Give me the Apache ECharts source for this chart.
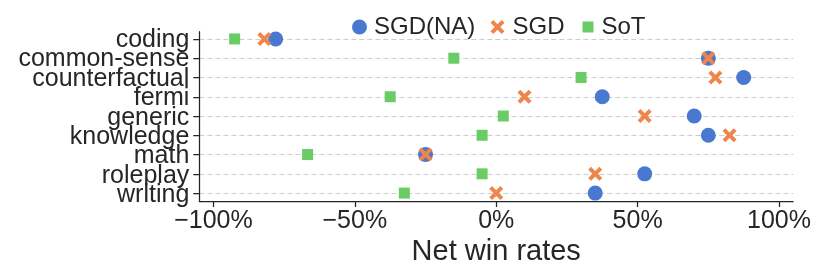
<!DOCTYPE html>
<html>
<head>
<meta charset="utf-8">
<script src="https://cdn.jsdelivr.net/npm/echarts@6/dist/echarts.min.js"></script>
<style>
html,body{margin:0;padding:0;background:#fff;}
#chart{width:814px;height:271px;}
</style>
</head>
<body>
<div id="chart"></div>
<script>
const categories = ['coding','common-sense','counterfactual','fermi','generic','knowledge','math','roleplay','writing'];
const sgdNA = [-78, 75, 87.5, 37.5, 70, 75, -25, 52.5, 35];
const sgd = [-82, 75, 77.5, 10, 52.5, 82.5, -25, 35, 0];
const sot = [-92.5, -15, 30, -37.5, 2.5, -5, -66.7, -5, -32.5];
const xTicks = [-100, -50, 0, 50, 100];
const seriesNames = ['SGD(NA)', 'SGD', 'SoT'];

const FONT = '"Liberation Sans", Arial, Helvetica, sans-serif';
const TXT = '#262626';
const xPath = 'path://M0,2 L2,0 L5,3 L8,0 L10,2 L7,5 L10,8 L8,10 L5,7 L2,10 L0,8 L3,5 Z';
const catIdx = categories.map((c, i) => i);
const toPts = arr => arr.map((v, i) => [v, i]);

const chart = echarts.init(document.getElementById('chart'), null, {renderer: 'canvas'});
chart.setOption({
  animation: false,
  backgroundColor: '#ffffff',
  textStyle: {fontFamily: FONT, color: TXT},
  grid: [
    {left: 199.3, right: 20.7, top: 31.7, bottom: 68.7, containLabel: false},
    {left: 199.3, right: 20.7, top: 30.3, bottom: 66.0, containLabel: false}
  ],
  legend: [
    {data: [seriesNames[0]], left: 352, top: 15, padding: 0, itemWidth: 15, itemHeight: 15,
     textStyle: {fontSize: 24, color: TXT, fontFamily: FONT, padding: [0,0,0,2]}},
    {data: [seriesNames[1]], left: 490.5, top: 15, padding: 0, itemWidth: 14, itemHeight: 14,
     textStyle: {fontSize: 24, color: TXT, fontFamily: FONT, padding: [0,0,0,3]}},
    {data: [seriesNames[2]], left: 582.5, top: 15, padding: 0, itemWidth: 11, itemHeight: 11,
     textStyle: {fontSize: 24, color: TXT, fontFamily: FONT, padding: [0,0,0,3]}}
  ],
  xAxis: [{
    type: 'value', min: -105, max: 105, gridIndex: 0,
    name: 'Net win rates', nameLocation: 'middle', nameGap: 36, nameMoveOverlap: false,
    nameTextStyle: {fontSize: 29, color: TXT, fontFamily: FONT},
    axisLine: {show: true, onZero: false, lineStyle: {color: TXT, width: 1.25}},
    axisTick: {show: true, length: 6, lineStyle: {color: TXT, width: 1.25}, customValues: xTicks},
    axisLabel: {fontSize: 25, color: TXT, margin: 8, customValues: xTicks,
      formatter: v => (v < 0 ? '\u2212' + Math.abs(v) : v) + '%'},
    splitLine: {show: false}
  }, {
    type: 'value', min: -105, max: 105, gridIndex: 1, show: false
  }],
  yAxis: [{
    type: 'value', inverse: true, min: -0.376, max: 8.41, gridIndex: 0,
    axisLine: {show: true, onZero: false, lineStyle: {color: TXT, width: 1.25}},
    axisTick: {show: true, length: 6, lineStyle: {color: TXT, width: 1.25}, customValues: catIdx},
    axisLabel: {show: false},
    splitLine: {show: true, lineStyle: {color: '#cccccc', width: 1, type: [5, 3]}}
  }, {
    type: 'category', inverse: true, data: categories, gridIndex: 1, boundaryGap: true,
    axisLine: {show: false}, axisTick: {show: false}, splitLine: {show: false},
    axisLabel: {fontSize: 25, color: TXT, margin: 10, interval: 0, hideOverlap: false}
  }],
  series: [
    {name: seriesNames[0], type: 'scatter', data: toPts(sgdNA), symbol: 'circle', symbolSize: 15,
     itemStyle: {color: '#4878d0', opacity: 1}, z: 2},
    {name: seriesNames[1], type: 'scatter', data: toPts(sgd), symbol: xPath, symbolSize: 14,
     itemStyle: {color: '#ee854a', opacity: 1}, z: 3},
    {name: seriesNames[2], type: 'scatter', data: toPts(sot), symbol: 'rect', symbolSize: 11,
     itemStyle: {color: '#6acc64', opacity: 1}, z: 4}
  ]
});
</script>
</body>
</html>
